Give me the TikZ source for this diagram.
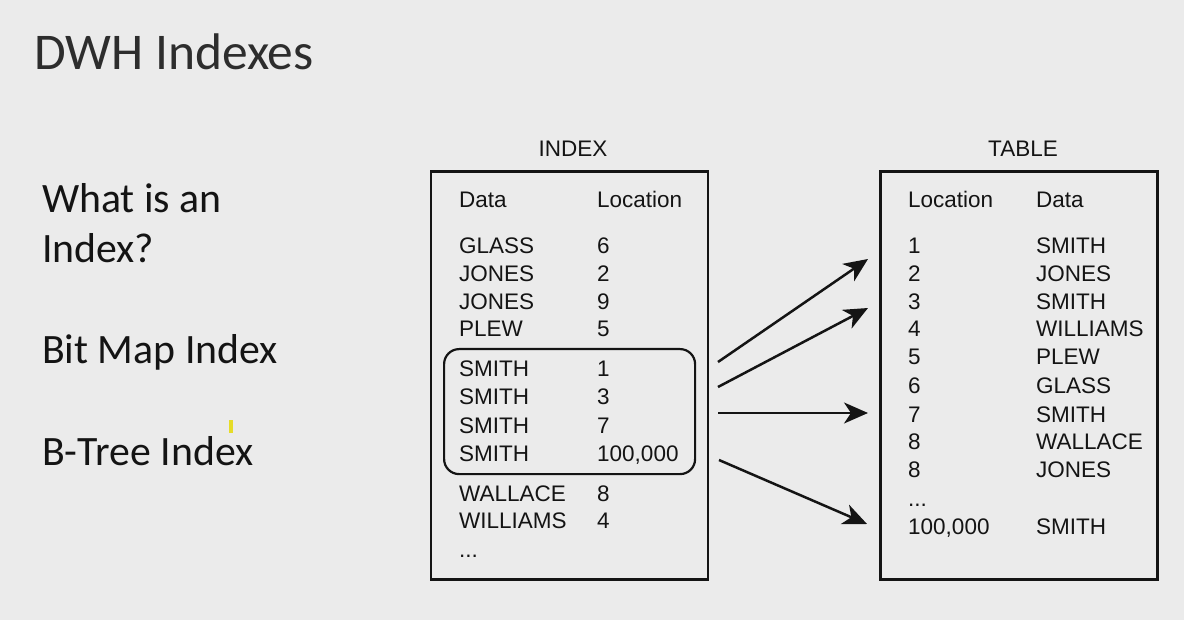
\documentclass[tikz,border=0pt]{standalone}
\usepackage{fontspec}
\setmainfont{Carlito}
\newfontfamily\arialf{Liberation Sans}
\usetikzlibrary{arrows.meta}
\definecolor{bg}{RGB}{235,235,235}
\definecolor{ink}{RGB}{20,20,20}
\definecolor{titleink}{RGB}{45,45,45}
\definecolor{cursor}{RGB}{230,220,40}
\begin{document}
\begin{tikzpicture}[x=1pt,y=-1pt,
  cell/.style={anchor=base west, inner sep=0pt, font=\arialf\fontsize{22.5}{22.5}\selectfont, text=ink},
  boxcaption/.style={anchor=base, inner sep=0pt, font=\arialf\fontsize{22.5}{22.5}\selectfont, text=ink},
  side/.style={anchor=base west, inner sep=0pt, font=\fontsize{41.8}{41.8}\selectfont, text=ink},
  frame/.style={draw=ink, line width=2.8pt},
  group/.style={draw=ink, line width=2.2pt, rounded corners=15pt},
  arr/.style={draw=ink, line width=2.5pt, -{Stealth[length=24pt,width=21pt,inset=7pt]}}
]
\fill[bg] (0,0) rectangle (1184,620);
\useasboundingbox (0,0) rectangle (1184,620);

% title and side text
\node[anchor=base west, inner sep=0pt, font=\fontsize{51.5}{51.5}\selectfont, text=titleink] (title) at (34,70) {DWH Indexes};
\node[side] (q1) at (42,213) {What is an};
\node[side] (q2) at (42,263) {Index?};
\node[side] (bm) at (42,363) {Bit Map Index};
\node[side] (bt) at (42,465) {B-Tree Index};
\fill[cursor] (229,420) rectangle (233,433);

% INDEX box
\node[boxcaption] (indexcap) at (573,157) {INDEX};
\node[frame, minimum width=277pt, minimum height=408pt, anchor=north west, inner sep=0pt] (indexbox) at (429.5,170) {};
\node[group, minimum width=251pt, minimum height=125pt, anchor=north west, inner sep=0pt] (grp) at (443,348) {};

\node[cell] (ih1) at (459,208) {Data};
\node[cell] (ih2) at (597,208) {Location};
\node[cell] (ia1) at (459,254) {GLASS};    \node[cell] (ib1) at (597,254) {6};
\node[cell] (ia2) at (459,282) {JONES};    \node[cell] (ib2) at (597,282) {2};
\node[cell] (ia3) at (459,310) {JONES};    \node[cell] (ib3) at (597,310) {9};
\node[cell] (ia4) at (459,337) {PLEW};     \node[cell] (ib4) at (597,337) {5};
\node[cell] (ia5) at (459,377) {SMITH};    \node[cell] (ib5) at (597,377) {1};
\node[cell] (ia6) at (459,405) {SMITH};    \node[cell] (ib6) at (597,405) {3};
\node[cell] (ia7) at (459,433) {SMITH};    \node[cell] (ib7) at (597,433) {7};
\node[cell] (ia8) at (459,461) {SMITH};    \node[cell] (ib8) at (597,461) {100,000};
\node[cell] (ia9) at (459,501) {WALLACE};  \node[cell] (ib9) at (597,501) {8};
\node[cell] (ia10) at (459,528) {WILLIAMS}; \node[cell] (ib10) at (597,528) {4};
\node[cell] (ia11) at (459,557) {...};

% TABLE box
\node[boxcaption] (tablecap) at (1023,157) {TABLE};
\node[frame, minimum width=277pt, minimum height=408pt, anchor=north west, inner sep=0pt] (tablebox) at (879,170) {};

\node[cell] (th1) at (908,208) {Location};
\node[cell] (th2) at (1036,208) {Data};
\node[cell] (ta1) at (908,254) {1};        \node[cell] (tb1) at (1036,254) {SMITH};
\node[cell] (ta2) at (908,282) {2};        \node[cell] (tb2) at (1036,282) {JONES};
\node[cell] (ta3) at (908,310) {3};        \node[cell] (tb3) at (1036,310) {SMITH};
\node[cell] (ta4) at (908,337) {4};        \node[cell] (tb4) at (1036,337) {WILLIAMS};
\node[cell] (ta5) at (908,365) {5};        \node[cell] (tb5) at (1036,365) {PLEW};
\node[cell] (ta6) at (908,393) {6};        \node[cell] (tb6) at (1036,393) {GLASS};
\node[cell] (ta7) at (908,422) {7};        \node[cell] (tb7) at (1036,422) {SMITH};
\node[cell] (ta8) at (908,449) {8};        \node[cell] (tb8) at (1036,449) {WALLACE};
\node[cell] (ta9) at (908,477) {8};        \node[cell] (tb9) at (1036,477) {JONES};
\node[cell] (ta10) at (908,506) {...};
\node[cell] (ta11) at (908,534) {100,000}; \node[cell] (tb11) at (1036,534) {SMITH};

% arrows
\coordinate (s1) at (718,362);  \coordinate (t1) at (868,259);
\coordinate (s2) at (718,387);  \coordinate (t2) at (868,308);
\coordinate (s3) at (718,413);  \coordinate (t3) at (868,413);
\coordinate (s4) at (719,460);  \coordinate (t4) at (867,524);
\draw[arr] (s1) -- (t1);
\draw[arr] (s2) -- (t2);
\draw[arr] (s3) -- (t3);
\draw[arr] (s4) -- (t4);
\end{tikzpicture}
\end{document}
